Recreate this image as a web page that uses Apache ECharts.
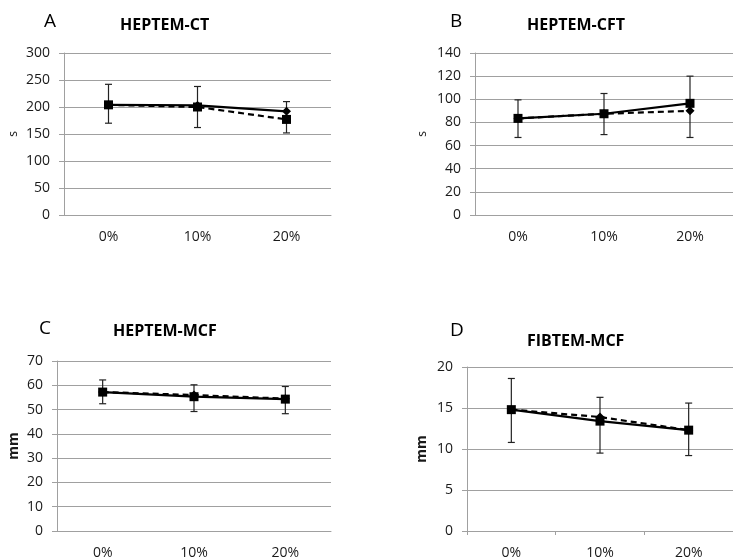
<!DOCTYPE html>
<html>
<head>
<meta charset="utf-8">
<script src="https://cdn.jsdelivr.net/npm/echarts@6/dist/echarts.min.js"></script>
<style>
  html, body { margin: 0; padding: 0; background: #fff; }
  #main { width: 733px; height: 560px; }
</style>
</head>
<body>
<div id="main"></div>
<script>
// x categories shared by all four panels
const categories = ['0%', '10%', '20%'];

// A: HEPTEM-CT (s)
const ctSolid = [204, 203, 192];
const ctDashed = [204, 200, 177];
const ctErr = [[170, 242], [162, 238], [152, 210]];

// B: HEPTEM-CFT (s)
const cftSolid = [83.5, 87.5, 96.5];
const cftDashed = [83.5, 87.5, 90];
const cftErr = [[67, 99.5], [69.5, 105], [67, 120]];

// C: HEPTEM-MCF (mm)
const mcfSolid = [57.2, 55.3, 54.3];
const mcfDashed = [57.2, 56, 54.5];
const mcfErr = [[52.4, 62.2], [49.2, 60.2], [48.3, 59.5]];

// D: FIBTEM-MCF (mm)
const fibSolid = [14.8, 13.4, 12.3];
const fibDashed = [14.8, 13.9, 12.3];
const fibErr = [[10.8, 18.6], [9.5, 16.3], [9.2, 15.6]];

const font = 'Open Sans';
const gray = '#a0a0a0';

const panels = [
  { letter: 'A', title: 'HEPTEM-CT', unit: 's', bold: false, max: 300, step: 50,
    grid: { left: 64, top: 53, width: 267, height: 162 }, ticks: false,
    solid: ctSolid, dashed: ctDashed, err: ctErr, solidSym: 'diamond', dashedSym: 'rect',
    letterPos: [44, 12], titlePos: [120, 17], nameGap: 44 },
  { letter: 'B', title: 'HEPTEM-CFT', unit: 's', bold: false, max: 140, step: 20,
    grid: { left: 475, top: 53, width: 264, height: 162 }, ticks: false,
    solid: cftSolid, dashed: cftDashed, err: cftErr, solidSym: 'rect', dashedSym: 'diamond',
    letterPos: [450, 12], titlePos: [527, 17], nameGap: 46 },
  { letter: 'C', title: 'HEPTEM-MCF', unit: 'mm', bold: true, max: 70, step: 10,
    grid: { left: 57, top: 361, width: 274, height: 171 }, ticks: false,
    solid: mcfSolid, dashed: mcfDashed, err: mcfErr, solidSym: 'rect', dashedSym: 'diamond',
    letterPos: [39, 319], titlePos: [113, 323], nameGap: 36 },
  { letter: 'D', title: 'FIBTEM-MCF', unit: 'mm', bold: true, max: 20, step: 5,
    grid: { left: 467, top: 367, width: 272, height: 165 }, ticks: true,
    solid: fibSolid, dashed: fibDashed, err: fibErr, solidSym: 'rect', dashedSym: 'diamond',
    letterPos: [450, 321], titlePos: [527, 333], nameGap: 38 }
];

function errorBars(api) {
  const x = api.value(0);
  const lo = api.coord([x, api.value(1)]);
  const hi = api.coord([x, api.value(2)]);
  const cap = 3.5;
  const style = { stroke: '#222', lineWidth: 1.2 };
  return {
    type: 'group',
    children: [
      { type: 'line', shape: { x1: lo[0], y1: lo[1], x2: hi[0], y2: hi[1] }, style },
      { type: 'line', shape: { x1: lo[0] - cap, y1: lo[1], x2: lo[0] + cap, y2: lo[1] }, style },
      { type: 'line', shape: { x1: hi[0] - cap, y1: hi[1], x2: hi[0] + cap, y2: hi[1] }, style }
    ]
  };
}

const titles = [];
const grids = [];
const xAxes = [];
const yAxes = [];
const series = [];

panels.forEach((p, i) => {
  titles.push({
    text: p.letter, left: p.letterPos[0], top: p.letterPos[1], padding: 0,
    textStyle: { fontFamily: font, fontSize: 19, fontWeight: 'normal', color: '#000' }
  });
  titles.push({
    text: p.title, left: p.titlePos[0], top: p.titlePos[1], padding: 0,
    textStyle: { fontFamily: font, fontSize: 16, fontWeight: 'bold', color: '#000' }
  });
  grids.push(Object.assign({ containLabel: false }, p.grid));
  xAxes.push({
    type: 'category', gridIndex: i, data: categories, boundaryGap: true,
    axisLine: { lineStyle: { color: gray } },
    axisTick: { show: p.ticks, length: 4, lineStyle: { color: gray } },
    axisLabel: { fontFamily: font, fontSize: 14, color: '#1a1a1a', margin: 15 }
  });
  yAxes.push({
    type: 'value', gridIndex: i, min: 0, max: p.max, interval: p.step,
    name: p.unit, nameLocation: 'middle', nameRotate: 90, nameGap: p.nameGap,
    nameTextStyle: { fontFamily: font, fontSize: p.bold ? 14 : 12, fontWeight: p.bold ? 'bold' : 'normal', color: '#1a1a1a' },
    axisLine: { show: true, lineStyle: { color: gray } },
    axisTick: { show: true, length: 5, lineStyle: { color: gray } },
    splitLine: { lineStyle: { color: gray } },
    axisLabel: { fontFamily: font, fontSize: 14, color: '#1a1a1a', margin: 14 }
  });
  series.push({
    type: 'custom', xAxisIndex: i, yAxisIndex: i,
    data: p.err.map((e, k) => [k, e[0], e[1]]),
    renderItem: (params, api) => errorBars(api), z: 1
  });
  series.push({
    type: 'line', xAxisIndex: i, yAxisIndex: i, data: p.dashed,
    symbol: p.dashedSym, symbolSize: p.dashedSym === 'rect' ? 9 : 9, showSymbol: true,
    lineStyle: { color: '#000', width: 2.2, type: [6, 4] },
    itemStyle: { color: '#000' }, z: 2
  });
  series.push({
    type: 'line', xAxisIndex: i, yAxisIndex: i, data: p.solid,
    symbol: p.solidSym, symbolSize: p.solidSym === 'rect' ? 9 : 9, showSymbol: true,
    lineStyle: { color: '#000', width: 2.2 },
    itemStyle: { color: '#000' }, z: 3
  });
});

const chart = echarts.init(document.getElementById('main'), null, { renderer: 'canvas' });
chart.setOption({
  animation: false,
  backgroundColor: '#fff',
  title: titles,
  grid: grids,
  xAxis: xAxes,
  yAxis: yAxes,
  series: series
});
</script>
</body>
</html>
